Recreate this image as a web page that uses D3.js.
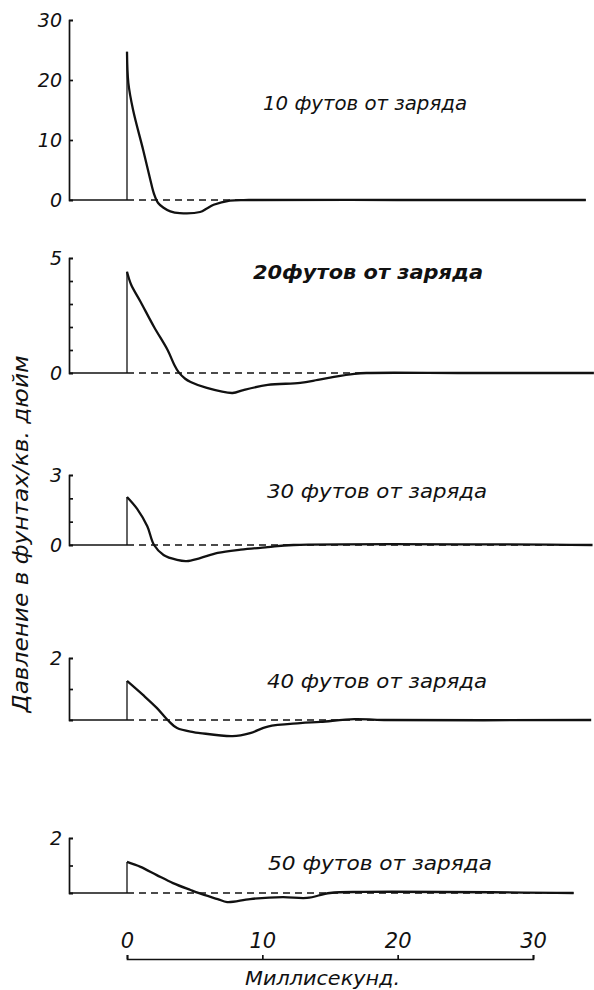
<!DOCTYPE html>
<html>
<head>
<meta charset="utf-8">
<script src="https://cdn.jsdelivr.net/npm/d3@7"></script>
<style>
  body { margin: 0; background: #fff; }
  svg { display: block; }
  text { font-family: "DejaVu Sans", sans-serif; font-style: italic; fill: #111; }
</style>
</head>
<body>
<div id="chart"></div>
<script>
const width = 594;
const height = 990;

// time in ms, pressure in lb/sq.in
const t10 = [0, 0.1, 0.45, 1.2, 1.7, 2.0, 2.3, 2.7, 3.2, 3.9, 5.4, 5.9, 6.4, 7.6, 9, 20, 33.9];
const p10 = [24.7, 19.5, 15, 8.3, 3.6, 1.0, -0.5, -1.3, -1.9, -2.2, -2.0, -1.4, -0.8, -0.1, 0, 0, 0];

const t20 = [0, 0.3, 1.0, 2.0, 3.0, 3.5, 3.8, 4.3, 4.7, 5.9, 7.8, 8.6, 10.4, 12.8, 14.1, 15.3, 16.8, 17.7, 25, 34.5];
const p20 = [4.4, 3.85, 3.1, 2.0, 1.0, 0.35, 0.05, -0.25, -0.39, -0.65, -0.87, -0.74, -0.52, -0.43, -0.3, -0.17, -0.04, 0, 0, 0];

const t30 = [0, 0.75, 1.5, 2.0, 2.7, 3.7, 4.4, 5.4, 6.7, 8.4, 10.4, 12.3, 34.4];
const p30 = [2.06, 1.55, 0.8, 0, -0.43, -0.64, -0.69, -0.56, -0.34, -0.2, -0.09, 0, 0];

const t40 = [0, 1.2, 2.2, 3.0, 3.7, 4.9, 5.4, 7.8, 9.1, 10.4, 12.8, 14.3, 16.8, 19, 34.3];
const p40 = [1.26, 0.8, 0.39, 0, -0.26, -0.39, -0.42, -0.52, -0.42, -0.21, -0.1, -0.06, 0.03, 0, 0];

const t50 = [0, 1.0, 2.2, 3.4, 4.7, 5.7, 6.7, 7.4, 9.1, 11.5, 13.3, 15.0, 17.5, 33.0];
const p50 = [1.13, 0.95, 0.65, 0.36, 0.11, -0.07, -0.22, -0.33, -0.22, -0.15, -0.18, 0, 0.04, 0];

const panelLabels = ["10 футов от заряда", "20футов от заряда", "30 футов от заряда",
                     "40 футов от заряда", "50 футов от заряда"];
const yMax = [30, 5, 3, 2, 2];
const yTickVals = [[0, 10, 20, 30], [0, 1, 2, 3, 4, 5], [0, 1, 2, 3], [0, 1, 2], [0, 1, 2]];
const yLabelVals = [[0, 10, 20, 30], [0, 5], [0, 3], [2], [2]];
const xTicks = [0, 10, 20, 30];
const xTitle = "Миллисекунд.";
const yTitle = "Давление в фунтах/кв. дюйм";

// layout of each panel: zero line y, top y, label position
const panels = [
  { t: t10, p: p10, y0: 200, y1: 20,  lx: 263, ly: 110, lw: 204 },
  { t: t20, p: p20, y0: 373, y1: 258, lx: 253, ly: 279, lw: 230 },
  { t: t30, p: p30, y0: 545, y1: 475, lx: 267, ly: 498, lw: 220 },
  { t: t40, p: p40, y0: 720, y1: 658, lx: 267, ly: 688, lw: 220 },
  { t: t50, p: p50, y0: 893, y1: 838, lx: 268, ly: 870, lw: 224 }
];

const axisX = 69;
const ink = "#111";

const svg = d3.select("#chart")
  .append("svg")
  .attr("width", width)
  .attr("height", height);

svg.append("rect").attr("width", width).attr("height", height).attr("fill", "#fff");

const x = d3.scaleLinear().domain([0, 30]).range([127, 533]);

panels.forEach((pn, i) => {
  const y = d3.scaleLinear().domain([0, yMax[i]]).range([pn.y0, pn.y1]);
  const g = svg.append("g");

  // axis with small ticks to the right
  const ax = g.append("g")
    .attr("transform", `translate(${axisX},0)`)
    .call(d3.axisRight(y).tickValues(yTickVals[i]).tickSize(4).tickSizeOuter(4).tickFormat(""));
  ax.selectAll("path, line").attr("stroke", ink).attr("stroke-width", 1.7);

  // tick labels on the left
  const lab = g.append("g")
    .attr("transform", `translate(${axisX},0)`)
    .call(d3.axisLeft(y).tickValues(yLabelVals[i]).tickSize(0).tickPadding(7).tickFormat(d3.format("d")));
  lab.select(".domain").remove();
  lab.selectAll("text")
    .attr("font-size", 19)
    .style("font-family", "'DejaVu Sans', sans-serif")
    .style("font-style", "italic")
    .attr("fill", ink);

  // solid base before the shot
  g.append("line")
    .attr("x1", axisX).attr("x2", x(0))
    .attr("y1", y(0)).attr("y2", y(0))
    .attr("stroke", ink).attr("stroke-width", 1.7);

  // dashed zero line after the shot
  g.append("line")
    .attr("x1", x(0)).attr("x2", x(d3.max(pn.t)))
    .attr("y1", y(0)).attr("y2", y(0))
    .attr("stroke", ink).attr("stroke-width", 1.4)
    .attr("stroke-dasharray", "7,5");

  // front of the shock wave
  g.append("line")
    .attr("x1", x(0)).attr("x2", x(0))
    .attr("y1", y(0)).attr("y2", y(pn.p[0]))
    .attr("stroke", ink).attr("stroke-width", 1.3);

  const line = d3.line()
    .x(d => x(d[0]))
    .y(d => y(d[1]))
    .curve(d3.curveCatmullRom.alpha(0.5));

  g.append("path")
    .datum(d3.zip(pn.t, pn.p))
    .attr("d", line)
    .attr("fill", "none")
    .attr("stroke", ink)
    .attr("stroke-width", 2.3)
    .attr("stroke-linejoin", "round");

  g.append("text")
    .attr("x", pn.lx).attr("y", pn.ly)
    .attr("font-size", 19)
    .attr("textLength", pn.lw)
    .attr("lengthAdjust", "spacingAndGlyphs")
    .attr("font-weight", i === 1 ? "bold" : "normal")
    .text(panelLabels[i]);
});

// time axis: bracket with ticks pointing up, labels above
const xa = svg.append("g")
  .attr("transform", "translate(0,959)")
  .call(d3.axisTop(x).tickValues(xTicks).tickSize(4).tickSizeOuter(4).tickPadding(7));
xa.selectAll("path, line").attr("stroke", ink).attr("stroke-width", 1.7);
xa.selectAll("text")
  .attr("font-size", 21)
  .style("font-family", "'DejaVu Sans', sans-serif")
  .style("font-style", "italic")
  .attr("fill", ink);

svg.append("text")
  .attr("x", 245).attr("y", 985)
  .attr("font-size", 20)
  .attr("textLength", 155)
  .attr("lengthAdjust", "spacingAndGlyphs")
  .text(xTitle);

svg.append("text")
  .attr("transform", "translate(28,534) rotate(-90)")
  .attr("text-anchor", "middle")
  .attr("font-size", 21)
  .attr("textLength", 357)
  .attr("lengthAdjust", "spacingAndGlyphs")
  .text(yTitle);
</script>
</body>
</html>
